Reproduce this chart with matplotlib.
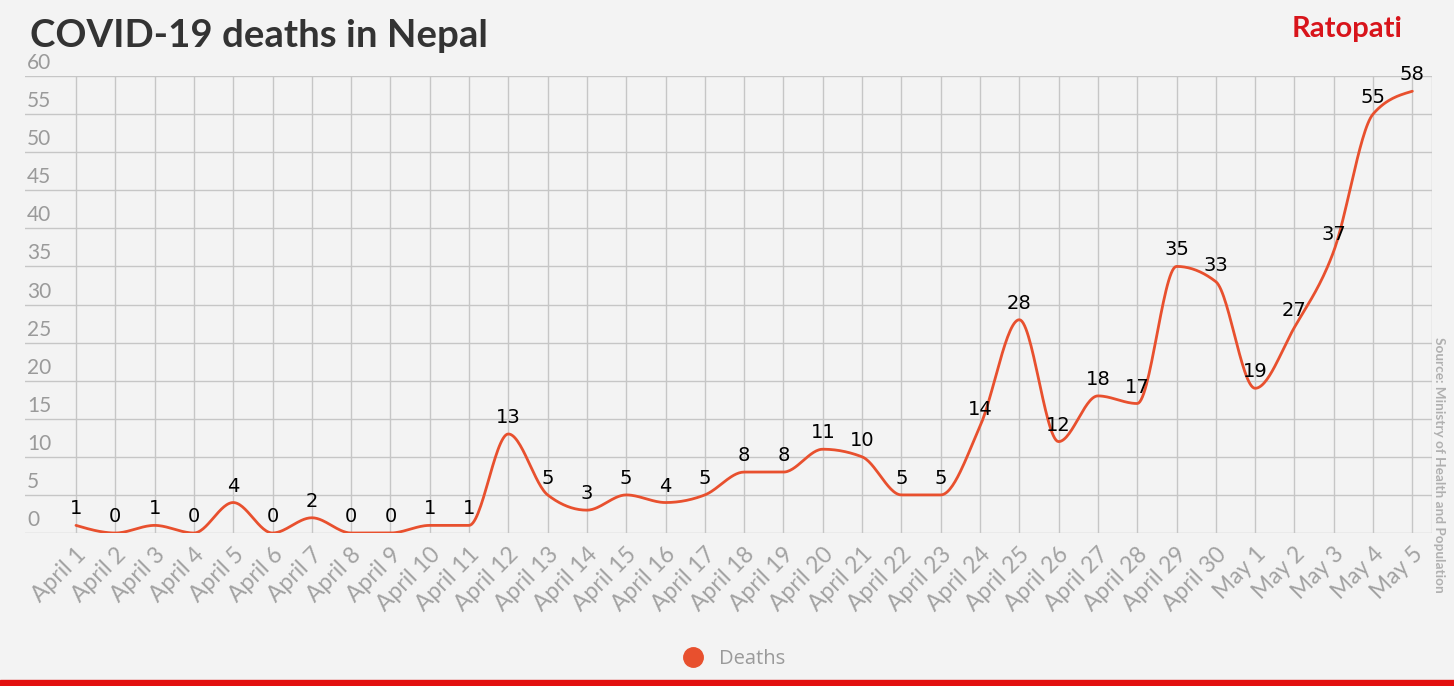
import numpy as np
import matplotlib.pyplot as plt
import matplotlib.transforms as mtransforms
from matplotlib.lines import Line2D

# data
dates = ["April %d" % d for d in range(1, 31)] + ["May %d" % d for d in range(1, 6)]
deaths = [1, 0, 1, 0, 4, 0, 2, 0, 0, 1, 1, 13, 5, 3, 5, 4, 5, 8, 8, 11,
          10, 5, 5, 14, 28, 12, 18, 17, 35, 33, 19, 27, 37, 55, 58]
yticks = [0, 5, 10, 15, 20, 25, 30, 35, 40, 45, 50, 55, 60]

LINE = "#e8502e"
GRID = "#c6c6c6"
TICK = "#9a9a9a"


def monotone_x(y, n=30):
    # d3-style monotone cubic, unit spacing; only used to draw the smooth line
    y = np.asarray(y, dtype=float)
    s = np.diff(y)
    m = np.zeros_like(y)
    for i in range(1, len(y) - 1):
        s0, s1 = s[i - 1], s[i]
        p = (s0 + s1) / 2.0
        m[i] = (np.sign(s0) + np.sign(s1)) * min(abs(s0), abs(s1), 0.5 * abs(p))
    m[0] = (3 * s[0] - m[1]) / 2.0
    m[-1] = (3 * s[-1] - m[-2]) / 2.0
    xs, ys = [], []
    for i in range(len(y) - 1):
        t = np.linspace(0, 1, n, endpoint=False)
        h00 = 2 * t**3 - 3 * t**2 + 1
        h10 = t**3 - 2 * t**2 + t
        h01 = -2 * t**3 + 3 * t**2
        h11 = t**3 - t**2
        xs.append(i + t)
        ys.append(h00 * y[i] + h10 * m[i] + h01 * y[i + 1] + h11 * m[i + 1])
    xs.append([len(y) - 1])
    ys.append([y[-1]])
    return np.concatenate(xs), np.concatenate(ys)


fig = plt.figure(figsize=(14.54, 6.86), dpi=100)
fig.patch.set_facecolor("#f3f3f3")
ax = fig.add_axes([25 / 1454, (686 - 533) / 686, (1432 - 25) / 1454, 457 / 686])
ax.set_facecolor("none")

x = np.arange(len(dates))
ax.set_xlim(-51 / 39.32, len(dates) - 0.5)
ax.set_ylim(0, 60)

for xi in x:
    ax.axvline(xi, color=GRID, lw=1, zorder=1)
ax.axvline(len(dates) - 0.5, color=GRID, lw=1, zorder=1)
for yt in yticks:
    ax.axhline(yt, color=GRID, lw=1, zorder=1)
    ax.annotate(str(yt), xy=(0, yt), xycoords=ax.get_yaxis_transform(),
                xytext=(1.5, 5), textcoords="offset points", ha="left", va="baseline",
                fontsize=15, color=TICK, family="Lato")

sx, sy = monotone_x(deaths)
ax.plot(sx, sy, color=LINE, lw=2, zorder=3, solid_capstyle="round")

for xi, v in zip(x, deaths):
    ax.annotate(str(v), xy=(xi, v), xytext=(0, 5), textcoords="offset points",
                ha="center", va="bottom", fontsize=14, color="black",
                family="DejaVu Sans", zorder=4)

ax.set_xticks(x)
ax.set_xticklabels(dates, rotation=45, ha="right", va="center", rotation_mode="anchor",
                   fontsize=16.5, color="#a2a2a2", family="Lato")
ax.tick_params(axis="x", length=0, pad=13)
shift = mtransforms.ScaledTranslation(7 / 100, 0, fig.dpi_scale_trans)
for lab in ax.get_xticklabels():
    lab.set_transform(lab.get_transform() + shift)
ax.set_yticks([])
for sp in ax.spines.values():
    sp.set_visible(False)

fig.text(30 / 1454, 1 - 36 / 686, "COVID-19 deaths in Nepal", fontsize=27.6,
         fontweight="bold", family="Lato", color="#333333", va="center", ha="left")
fig.text(1403 / 1454, 1 - 29 / 686, "Ratopati", fontsize=21, fontweight="bold",
         family="Lato", color="#d8141b", va="center", ha="right")
fig.text(1439 / 1454, 1 - 465 / 686, "Source: Ministry of Health and Population",
         fontsize=9.8, fontweight="bold", family="Lato", color="#b0b0b0",
         rotation=-90, va="center", ha="center")

fig.legend(handles=[Line2D([], [], marker="o", ls="none", color=LINE, markersize=14)],
           labels=["Deaths"], loc="center", bbox_to_anchor=(729 / 1454, 1 - 659 / 686),
           frameon=False, labelcolor=TICK, handletextpad=0.3,
           prop={"family": "Open Sans", "size": 14.5})

fig.add_artist(plt.Rectangle((0, 0), 1, 6 / 686, transform=fig.transFigure,
                             color="#e3100f", zorder=10))

fig.savefig("out.png", dpi=100, facecolor=fig.get_facecolor())
